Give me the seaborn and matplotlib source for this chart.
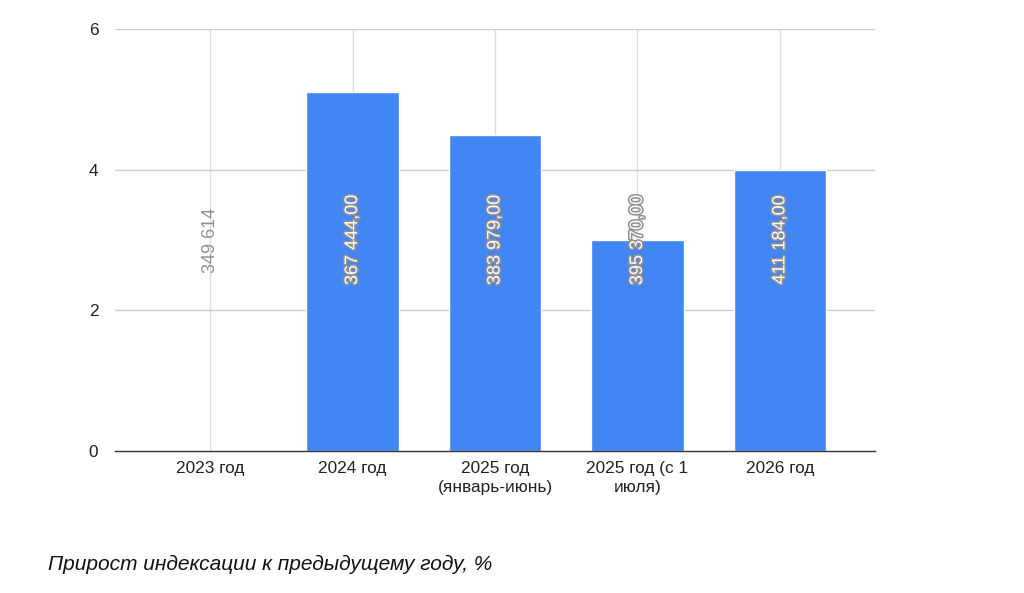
import matplotlib
matplotlib.use("Agg")
import matplotlib.pyplot as plt
import matplotlib.patheffects as pe
import seaborn as sns
import pandas as pd

# data
categories = ["2023 год", "2024 год", "2025 год\n(январь-июнь)", "2025 год (с 1\nиюля)", "2026 год"]
growth = [0, 5.1, 4.5, 3.0, 4.0]
bar_labels = ["349 614", "367 444,00", "383 979,00", "395 370,00", "411 184,00"]
y_ticks = [0, 2, 4, 6]
caption = "Прирост индексации к предыдущему году, %"

df = pd.DataFrame({"cat": categories, "val": growth})

sns.set_style("white")
plt.rcParams["font.family"] = ["Liberation Sans", "DejaVu Sans"]

fig = plt.figure(figsize=(10.24, 5.93), dpi=100)
ax = fig.add_axes([115 / 1024, 1 - 451 / 593, 760 / 1024, 422 / 593])

# grid behind the bars
ax.set_axisbelow(True)
for i in range(len(categories)):
    ax.axvline(i, color="#dddddd", lw=1, zorder=0)
for t in y_ticks[1:]:
    ax.axhline(t, color="#cccccc", lw=1, zorder=0)

sns.barplot(data=df, x="cat", y="val", color="#4285f4", saturation=1,
            width=0.646, ax=ax, zorder=2)

# value labels, rotated
for i, lab in enumerate(bar_labels):
    if growth[i] > 0:
        ax.text(i, 3.0, lab, rotation=90, ha="center", va="center", fontsize=13,
                color="white", zorder=3,
                path_effects=[pe.withStroke(linewidth=2.2, foreground="#909090")])
    else:
        ax.text(i, 3.0, lab, rotation=90, ha="center", va="center", fontsize=13,
                color="#909090", zorder=3)

ax.set_xlim(-0.667, 4.667)
ax.set_ylim(0, 6)
ax.set_yticks(y_ticks)
ax.set_xlabel("")
ax.set_ylabel("")
ax.tick_params(axis="both", length=0, labelsize=12.4, colors="#222222")
ax.tick_params(axis="x", pad=7)
ax.tick_params(axis="y", pad=12)
for lbl in ax.get_xticklabels():
    lbl.set_linespacing(1.35)
for s in ["top", "right", "left"]:
    ax.spines[s].set_visible(False)
ax.spines["bottom"].set_color("#333333")
ax.spines["bottom"].set_linewidth(1)

fig.text(48 / 1024, 1 - 564 / 593, caption, fontsize=15, style="italic",
         color="#111111", va="center", ha="left")

fig.savefig("out.png", dpi=100, facecolor="white")
